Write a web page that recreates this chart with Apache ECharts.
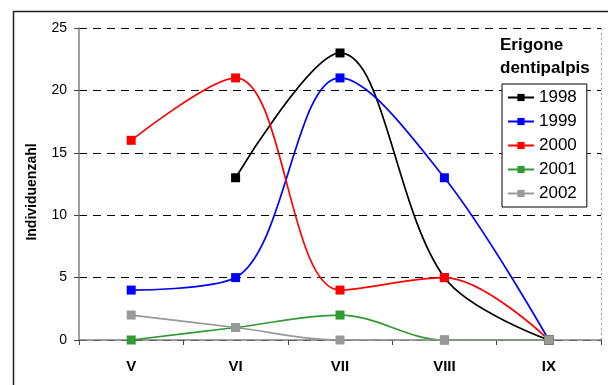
<!DOCTYPE html>
<html>
<head>
<meta charset="utf-8">
<script src="https://cdn.jsdelivr.net/npm/echarts@6/dist/echarts.min.js"></script>
<style>
  html, body { margin: 0; padding: 0; background: #fff; }
  #chart { width: 608px; height: 385px; }
</style>
</head>
<body>
<div id="chart"></div>
<script>
// Months (Roman numerals) on the category axis
var months = ['V', 'VI', 'VII', 'VIII', 'IX'];

// Individual counts per month, one array per year
var y1998 = [null, 13, 23, 5, 0];
var y1999 = [4, 5, 21, 13, 0];
var y2000 = [16, 21, 4, 5, 0];
var y2001 = [0, 1, 2, 0, 0];
var y2002 = [2, 1, 0, 0, 0];

var years = ['1998', '1999', '2000', '2001', '2002'];
var yearData = [y1998, y1999, y2000, y2001, y2002];
var yearColors = ['#000000', '#0000ff', '#ff0000', '#339933', '#999999'];

var yTicks = { min: 0, max: 25, interval: 5 };

var FONT = 'Liberation Sans, Arial, sans-serif';

var chart = echarts.init(document.getElementById('chart'), null, { renderer: 'canvas' });

var series = years.map(function (name, i) {
  return {
    name: name,
    type: 'line',
    data: yearData[i],
    smooth: 0.35,
    connectNulls: false,
    symbol: 'rect',
    symbolSize: 9,
    showAllSymbol: true,
    lineStyle: { color: yearColors[i], width: 1.7 },
    itemStyle: { color: yearColors[i] },
    emphasis: { disabled: true },
    animation: false
  };
});

chart.setOption({
  animation: false,
  backgroundColor: '#ffffff',
  textStyle: { fontFamily: FONT },
  grid: { left: 79, right: 7, top: 28, bottom: 45, containLabel: false },
  title: {
    text: 'Erigone\ndentipalpis',
    left: 495,
    top: 29,
    textStyle: { fontFamily: FONT, fontSize: 17, fontWeight: 'bold', color: '#000', lineHeight: 23 }
  },
  legend: {
    orient: 'vertical',
    left: 502,
    top: 84,
    padding: [5, 10, 5, 5],
    itemWidth: 26,
    itemHeight: 9,
    itemGap: 7,
    backgroundColor: '#ffffff',
    borderColor: '#000000',
    borderWidth: 1,
    textStyle: { fontFamily: FONT, fontSize: 17, color: '#000', lineHeight: 17 },
    data: years
  },
  xAxis: {
    type: 'category',
    data: months,
    boundaryGap: true,
    axisLine: { lineStyle: { color: '#808080', width: 1.5 } },
    axisTick: { show: true, length: 5, inside: false, lineStyle: { color: '#444' } },
    axisLabel: { fontFamily: FONT, fontSize: 15, fontWeight: 'bold', color: '#000', margin: 19 },
    splitLine: { show: false }
  },
  yAxis: {
    type: 'value',
    min: yTicks.min,
    max: yTicks.max,
    interval: yTicks.interval,
    name: 'Individuenzahl',
    nameLocation: 'middle',
    nameGap: 40,
    nameTextStyle: { fontFamily: FONT, fontSize: 14, fontWeight: 'bold', color: '#000', padding: [0, 16, 0, 0] },
    axisLine: { show: true, lineStyle: { color: '#808080', width: 1.5 } },
    axisTick: { show: true, length: 5, lineStyle: { color: '#444' } },
    axisLabel: { fontFamily: FONT, fontSize: 14, color: '#000', margin: 12 },
    splitLine: { show: true, lineStyle: { color: '#000', type: [8, 6], width: 1 } }
  },
  graphic: [
    {
      type: 'rect',
      shape: { x: 13.5, y: 11.5, width: 700, height: 500 },
      style: { fill: null, stroke: '#222', lineWidth: 1.5 },
      silent: true,
      z: 100
    },
    {
      type: 'line',
      shape: { x1: 601.5, y1: 28, x2: 601.5, y2: 340 },
      style: { stroke: '#999', lineWidth: 1, lineDash: [2, 3] },
      silent: true
    }
  ],
  series: series
});
</script>
</body>
</html>
